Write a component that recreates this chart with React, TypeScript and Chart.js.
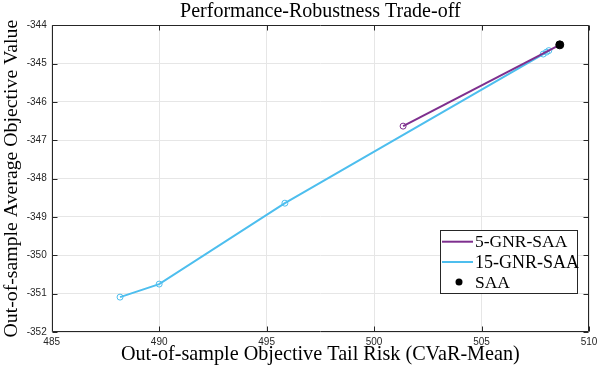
import React, { useEffect, useRef } from "react";
import { Chart, registerables } from "chart.js";

Chart.register(...registerables);

// ---- data ----
const gnr5X = [501.35, 508.64];
const gnr5Y = [-346.63, -344.51];
const gnr15X = [488.18, 490.0, 495.85, 507.87, 508.02, 508.13];
const gnr15Y = [-351.09, -350.75, -348.64, -344.75, -344.7, -344.66];
const saaX = [508.64];
const saaY = [-344.51];
const xTicks = [485, 490, 495, 500, 505, 510];
const yTicks = [-352, -351, -350, -349, -348, -347, -346, -345, -344];
const seriesNames = ["5-GNR-SAA", "15-GNR-SAA", "SAA"];

const PURPLE = "#7E2F8E";
const CYAN = "#4DBEEE";
const AXIS = "#262626";
const SERIF = "'Liberation Serif', 'DejaVu Serif', serif";
const SANS = "'Liberation Sans', Arial, sans-serif";

const toPts = (xs: number[], ys: number[]) => xs.map((x, i) => ({ x, y: ys[i] }));

const boxPlugin = {
  id: "matlabBox",
  afterDatasetsDraw(chart: any) {
    const { ctx, chartArea: a, scales } = chart;
    ctx.save();
    ctx.strokeStyle = AXIS;
    ctx.lineWidth = 1;
    const L = Math.round(a.left) + 0.5;
    const R = Math.round(a.right) - 0.5;
    const T = Math.round(a.top) + 0.5;
    const B = Math.round(a.bottom) - 0.5;
    ctx.beginPath();
    ctx.rect(L, T, R - L, B - T);
    const tl = 5;
    xTicks.forEach((v) => {
      const px = Math.round(scales.x.getPixelForValue(v)) + 0.5;
      ctx.moveTo(px, B);
      ctx.lineTo(px, B - tl);
      ctx.moveTo(px, T);
      ctx.lineTo(px, T + tl);
    });
    yTicks.forEach((v) => {
      const py = Math.round(scales.y.getPixelForValue(v)) + 0.5;
      ctx.moveTo(L, py);
      ctx.lineTo(L + tl, py);
      ctx.moveTo(R, py);
      ctx.lineTo(R - tl, py);
    });
    ctx.stroke();

    // legend
    const bx = a.right - 149;
    const by = a.bottom - 102;
    const bw = 137;
    const bh = 63;
    ctx.fillStyle = "#ffffff";
    ctx.fillRect(bx, by, bw, bh);
    ctx.strokeStyle = "#262626";
    ctx.lineWidth = 1;
    ctx.strokeRect(Math.round(bx) + 0.5, Math.round(by) + 0.5, bw, bh);
    const rows = [by + 11.7, by + 32, by + 52];
    const colors = [PURPLE, CYAN, "#000000"];
    ctx.textBaseline = "middle";
    ctx.textAlign = "left";
    rows.forEach((ry, i) => {
      if (i < 2) {
        ctx.strokeStyle = colors[i];
        ctx.lineWidth = 2;
        ctx.beginPath();
        ctx.moveTo(bx + 2, ry);
        ctx.lineTo(bx + 33, ry);
        ctx.stroke();
      } else {
        ctx.fillStyle = "#000";
        ctx.beginPath();
        ctx.arc(bx + 19, ry, 3.5, 0, Math.PI * 2);
        ctx.fill();
      }
      ctx.fillStyle = "#000";
      ctx.font = `${i === 1 ? 18 : 17.5}px ${SERIF}`;
      ctx.fillText(seriesNames[i], bx + 35, ry + 1);
    });
    ctx.restore();
  },
};

export default function App() {
  const ref = useRef<HTMLCanvasElement | null>(null);
  useEffect(() => {
    document.body.style.margin = "0";
    const canvas = ref.current;
    if (!canvas) return;
    const chart = new Chart(canvas, {
      type: "scatter",
      data: {
        datasets: [
          {
            label: seriesNames[2],
            data: toPts(saaX, saaY),
            pointRadius: 4,
            pointBackgroundColor: "#000",
            pointBorderColor: "#000",
            showLine: false,
            order: 0,
          },
          {
            label: seriesNames[0],
            data: toPts(gnr5X, gnr5Y),
            showLine: true,
            borderColor: PURPLE,
            borderWidth: 2,
            pointRadius: [3, 0],
            pointBorderWidth: 1,
            pointBorderColor: PURPLE,
            pointBackgroundColor: "rgba(255,255,255,0)",
            order: 1,
          },
          {
            label: seriesNames[1],
            data: toPts(gnr15X, gnr15Y),
            showLine: true,
            borderColor: CYAN,
            borderWidth: 2,
            pointRadius: 3,
            pointBorderWidth: 1,
            pointBorderColor: CYAN,
            pointBackgroundColor: "rgba(255,255,255,0)",
            order: 2,
          },
        ],
      },
      options: {
        animation: false,
        responsive: false,
        devicePixelRatio: 1,
        layout: { padding: { left: 0, right: 9, top: 0, bottom: 0 } },
        plugins: {
          legend: { display: false },
          tooltip: { enabled: false },
          title: {
            display: true,
            fullSize: false,
            text: "Performance-Robustness Trade-off",
            color: "#000",
            font: { family: SERIF, size: 20, weight: "normal", lineHeight: 1.2 },
            padding: { top: 0, bottom: 1.3 },
          },
        },
        scales: {
          x: {
            type: "linear",
            min: 485,
            max: 510,
            afterBuildTicks: (s: any) => {
              s.ticks = xTicks.map((v) => ({ value: v }));
            },
            afterFit: (s: any) => {
              s.height = 39;
              s.paddingLeft = 0;
              s.paddingRight = 0;
            },
            grid: { color: "#e6e6e6", drawTicks: false },
            border: { display: false },
            ticks: {
              color: AXIS,
              font: { family: SANS, size: 10 },
              padding: 4,
              maxRotation: 0,
              callback: (v: any) => String(v),
            },
            title: {
              display: true,
              text: "Out-of-sample Objective Tail Risk (CVaR-Mean)",
              color: "#000",
              font: { family: SERIF, size: 20.2, lineHeight: 1.2 },
              padding: { top: 0, bottom: 4 },
            },
          },
          y: {
            type: "linear",
            min: -352,
            max: -344,
            afterBuildTicks: (s: any) => {
              s.ticks = yTicks.map((v) => ({ value: v }));
            },
            afterFit: (s: any) => {
              s.width = 51.7;
              s.paddingTop = 0;
              s.paddingBottom = 0;
            },
            grid: { color: "#e6e6e6", drawTicks: false },
            border: { display: false },
            ticks: {
              color: AXIS,
              font: { family: SANS, size: 10 },
              padding: 5,
              callback: (v: any) => String(v),
            },
            title: {
              display: true,
              text: "Out-of-sample Average Objective Value",
              color: "#000",
              font: { family: SERIF, size: 19.8, lineHeight: 1.2 },
              padding: { top: 0, bottom: 0 },
            },
          },
        },
      },
      plugins: [boxPlugin],
    });
    return () => chart.destroy();
  }, []);
  return (
    <canvas
      ref={ref}
      width={598}
      height={371}
      style={{ display: "block", width: 598, height: 371 }}
    />
  );
}
